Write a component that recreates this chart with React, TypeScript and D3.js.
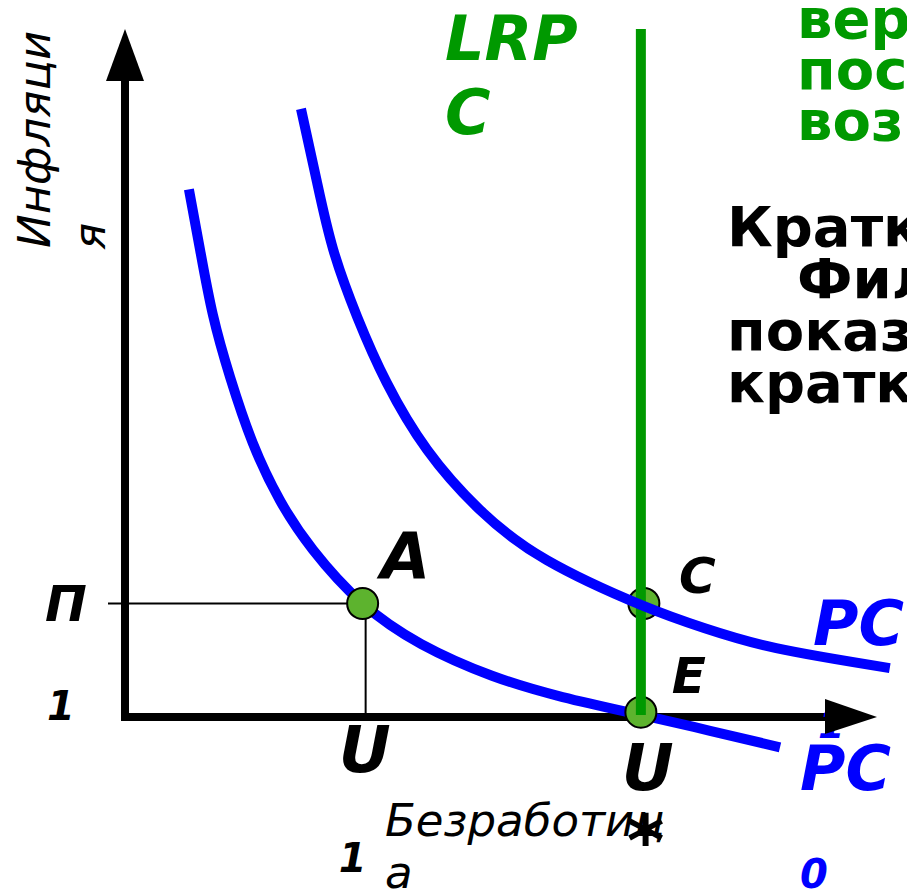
import React from "react";
import * as d3 from "d3";

// Short-run Phillips curves (unemployment on x, inflation on y)
const pc0Unemp = [0.85, 1.0, 1.17, 1.4, 1.7, 2.06, 2.5, 3.15, 3.94, 4.88, 5.82, 6.86, 7.78, 8.71];
const pc0Infl = [7.67, 6.78, 5.84, 4.93, 3.98, 3.15, 2.43, 1.66, 1.06, 0.6, 0.29, 0.03, -0.2, -0.44];
const pc1Unemp = [2.34, 2.55, 2.77, 3.09, 3.48, 4.02, 4.72, 5.61, 6.86, 7.71, 8.66, 10.17];
const pc1Infl = [8.84, 7.79, 6.79, 5.81, 4.86, 3.88, 3.01, 2.28, 1.63, 1.29, 1.0, 0.71];

// Natural rate (long-run Phillips curve) and labelled points
const naturalRate = 6.86;
const u1 = 3.16;
const pi1 = 1.65;
const pointNames = ["A", "C", "E"];
const pointUnemp = [3.16, 6.9, 6.86];
const pointInfl = [1.65, 1.65, 0.07];

const W = 907;
const H = 890;
const GREEN = "#009900";
const BLUE = "#0000ff";
const DOT = "#5db32e";
const FONT = "'DejaVu Sans', Verdana, sans-serif";

const x = d3.scaleLinear().domain([0, 10]).range([125, 877]);
const y = d3.scaleLinear().domain([0, 10]).range([717, 29]);

const line = d3
  .line<[number, number]>()
  .x((d) => x(d[0]))
  .y((d) => y(d[1]))
  .curve(d3.curveNatural);

const pc0 = pc0Unemp.map((u, i) => [u, pc0Infl[i]] as [number, number]);
const pc1 = pc1Unemp.map((u, i) => [u, pc1Infl[i]] as [number, number]);

export default function App() {
  const x0 = x(0);
  const y0 = y(0);
  const xEnd = x(10);
  const yEnd = y(10);
  const pts = pointNames.map((n, i) => ({ n, cx: x(pointUnemp[i]), cy: y(pointInfl[i]) }));
  const [pA, pC, pE] = pts;
  const bi = { fontFamily: FONT, fontWeight: "bold", fontStyle: "italic" } as const;
  const it = { fontFamily: FONT, fontStyle: "italic" } as const;
  const bold = { fontFamily: FONT, fontWeight: "bold" } as const;

  return (
    <svg
      width={W}
      height={H}
      viewBox={`0 0 ${W} ${H}`}
      style={{ position: "absolute", left: 0, top: 0, background: "#fff", overflow: "hidden" }}
    >
      {/* explanatory text, cut off at the right edge */}
      <g style={bold} fontSize={56} fill={GREEN}>
        <text x={797} y={38}>вертикальна</text>
        <text x={797} y={89}>поскольку</text>
        <text x={797} y={140}>возвращается</text>
      </g>
      <g style={bold} fontSize={56} fill="#000">
        <text x={727} y={246}>Краткосрочная</text>
        <text x={797} y={298}>Филлипса</text>
        <text x={727} y={350}>показывает</text>
        <text x={727} y={402}>краткосрочный</text>
      </g>

      {/* LRPC label */}
      <g style={bi} fontSize={62} fill={GREEN}>
        <text x={445} y={60}>LRP</text>
        <text x={445} y={134}>C</text>
      </g>

      {/* axis titles */}
      <g style={it} fontSize={45} fill="#000">
        <text transform={`translate(50,248) rotate(-90)`}>Инфляци</text>
        <text transform={`translate(105,250) rotate(-90)`}>я</text>
        <text x={385} y={836}>Безработиц</text>
        <text x={385} y={888}>а</text>
      </g>

      {/* guide lines to π1 and U1 */}
      <line x1={108} x2={pA.cx} y1={y(pi1)} y2={y(pi1)} stroke="#000" strokeWidth={2} />
      <line x1={x(u1) + 3} x2={x(u1) + 3} y1={y(pi1)} y2={y0} stroke="#000" strokeWidth={2} />

      {/* axes */}
      <line x1={x0} x2={x0} y1={y0 + 4} y2={yEnd + 50} stroke="#000" strokeWidth={8} />
      <polygon points={`${x0},${yEnd} ${x0 - 19},${yEnd + 52} ${x0 + 19},${yEnd + 52}`} fill="#000" />
      <line x1={x0} x2={xEnd - 50} y1={y0} y2={y0} stroke="#000" strokeWidth={8} />

      {/* PC1 subscript, partly under the x-axis arrow */}
      <text x={818} y={738} style={bi} fontSize={38} fill={BLUE}>1</text>
      <polygon points={`${xEnd},${y0} ${xEnd - 52},${y0 - 18} ${xEnd - 52},${y0 + 17}`} fill="#000" />

      {/* short-run curve PC0 */}
      <path d={line(pc0) ?? ""} fill="none" stroke={BLUE} strokeWidth={10} />

      {/* equilibrium points */}
      {pts.map((p) => (
        <circle key={p.n} cx={p.cx} cy={p.cy} r={15.5} fill={DOT} stroke="#000" strokeWidth={2} />
      ))}

      {/* long-run Phillips curve */}
      <line x1={x(naturalRate)} x2={x(naturalRate)} y1={yEnd} y2={y(0.03)} stroke={GREEN} strokeWidth={10} />

      {/* short-run curve PC1 */}
      <path d={line(pc1) ?? ""} fill="none" stroke={BLUE} strokeWidth={10} />

      {/* point and axis labels */}
      <g style={bi} fill="#000">
        <text x={pA.cx + 18} y={pA.cy - 24} fontSize={64}>A</text>
        <text x={pC.cx + 35} y={pC.cy - 10} fontSize={50}>C</text>
        <text x={pE.cx + 31} y={pE.cy - 19} fontSize={50}>E</text>
        <text x={45} y={y(pi1) + 18} fontSize={50}>П</text>
        <text x={47} y={720} fontSize={40}>1</text>
        <text x={x(u1) - 24} y={772} fontSize={64}>U</text>
        <text x={x(u1) - 24} y={872} fontSize={40}>1</text>
        <text x={x(naturalRate) - 19} y={790} fontSize={64}>U</text>
      </g>
      <text x={x(naturalRate) - 14} y={866} style={bold} fontSize={72} fill="#000">*</text>

      <g style={bi} fill={BLUE}>
        <text x={813} y={645} fontSize={62}>PC</text>
        <text x={800} y={790} fontSize={62}>PC</text>
        <text x={800} y={888} fontSize={40}>0</text>
      </g>
    </svg>
  );
}
